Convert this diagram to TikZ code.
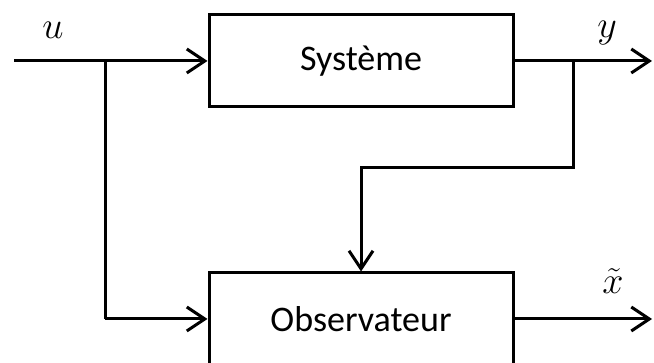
\documentclass[tikz,border=0pt]{standalone}
\usepackage{fix-cm}
\usepackage{fontspec}
\setmainfont{Carlito}
\usetikzlibrary{arrows.meta}
\DeclareMathSizes{38}{38}{28}{20}
\begin{document}
\begin{tikzpicture}[x=1pt,y=-1pt,
  blockbox/.style={draw,line width=3pt,minimum width=304pt,minimum height=92pt,inner sep=0pt,font=\fontsize{36}{40}\selectfont},
  sig/.style={line width=3pt,-{Straight Barb[length=18pt,width=24pt,line width=3pt]}},
  wire/.style={line width=3pt},
  lab/.style={inner sep=0pt,font=\fontsize{38}{40}\selectfont}]
\useasboundingbox (0,0) rectangle (654,363);
\clip (0,0) rectangle (654,363);
\node[blockbox] (sys) at (361,61) {Système};
\node[blockbox] (obs) at (361,319) {Observateur};
\coordinate (in) at (14,61);
\coordinate (b1) at (105,61);
\coordinate (b2) at (573,61);
\coordinate (yout) at (652,61);
\coordinate (fb) at (573,168);
\coordinate (fb2) at (361,168);
\coordinate (xout) at (652,319);
\draw[wire] (in) -- (b1);
\draw[sig] (b1) -- (sys.west);
\draw[wire] (sys.east) -- (b2);
\draw[sig] (b2) -- (yout);
\draw[wire] (b1) -- (b1 |- obs.west);
\draw[sig] (b1 |- obs.west) -- (obs.west);
\draw[sig] (b2) -- (fb) -- (fb2) -- (obs.north);
\draw[sig] (obs.east) -- (xout);
\node[lab] (lu) at (53,30) {$u$};
\node[lab] (ly) at (607,33) {$y$};
\node[lab] (lx) at (613,281) {$\tilde{x}$};
\end{tikzpicture}
\end{document}
